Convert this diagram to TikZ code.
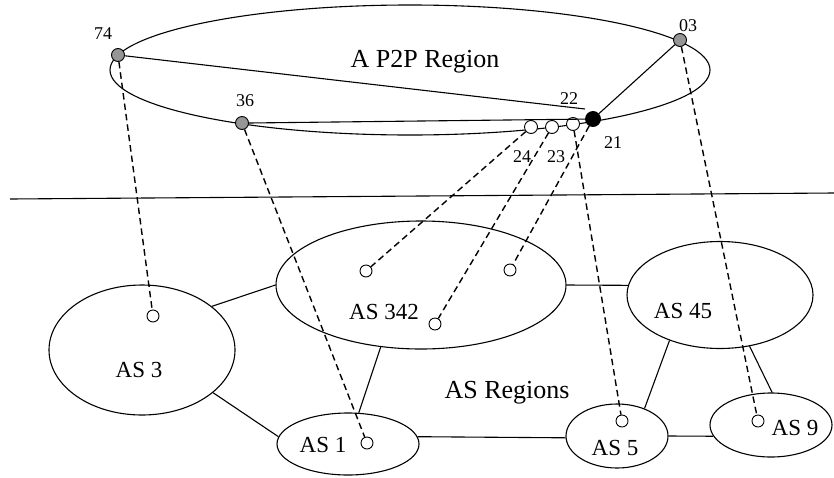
\documentclass[tikz,border=0pt]{standalone}
\usepackage{fontspec}
\setmainfont{Liberation Serif}
\usetikzlibrary{shapes.geometric}
\definecolor{peergray}{RGB}{150,150,150}
\begin{document}
\begin{tikzpicture}[x=1pt,y=-1pt,
  region/.style={draw, ellipse, line width=1.1pt, inner sep=0pt},
  peer/.style={draw, circle, fill=peergray, minimum size=13pt, inner sep=0pt, line width=0.9pt},
  hub/.style={draw, circle, fill=black, minimum size=15pt, inner sep=0pt, line width=0.9pt},
  minor/.style={draw, circle, fill=white, minimum size=13pt, inner sep=0pt, line width=0.9pt},
  host/.style={draw, circle, fill=white, minimum size=12pt, inner sep=0pt, line width=0.9pt},
  link/.style={line width=1.1pt},
  map/.style={line width=1.4pt, dash pattern=on 6.5pt off 4pt},
  numlbl/.style={anchor=base, inner sep=0pt, font=\fontsize{18}{20}\selectfont},
  aslbl/.style={anchor=base, inner sep=0pt, font=\fontsize{23}{25}\selectfont},
  biglbl/.style={anchor=base, inner sep=0pt, font=\fontsize{26}{28}\selectfont}]
\useasboundingbox (0,0) rectangle (834,477);

% P2P region
\node[region, minimum width=600pt, minimum height=130pt] (p2p) at (410,70) {};
\node[biglbl] (p2plbl) at (425,67) {A P2P Region};

% separator
\coordinate (sepl) at (10,199);
\coordinate (sepr) at (834,193);
\draw[link] (sepl) -- (sepr);

% AS regions
\node[region, minimum width=186pt, minimum height=130pt] (as3) at (142,350) {};
\node[region, minimum width=290pt, minimum height=128pt] (as342) at (421,285) {};
\node[region, minimum width=186pt, minimum height=107pt] (as45) at (720,295) {};
\node[region, minimum width=142pt, minimum height=62pt] (as1) at (348,444) {};
\node[region, minimum width=102pt, minimum height=64pt] (as5) at (617,436) {};
\node[region, minimum width=122pt, minimum height=64pt] (as9) at (771,425) {};

\node[aslbl] (l3) at (139,377) {AS 3};
\node[aslbl] (l342) at (384,319) {AS 342};
\node[aslbl] (l45) at (683,318) {AS 45};
\node[aslbl] (l1) at (323,452) {AS 1};
\node[aslbl] (l5) at (615,455) {AS 5};
\node[aslbl] (l9) at (795,435) {AS 9};
\node[biglbl] (asr) at (507,398) {AS Regions};

% AS links
\draw[link] (as3.32) -- (as342.180);
\draw[link] (as3.-31) -- (as1.174);
\draw[link] (as342.237) -- (as1.71);
\draw[link] (as342.0) -- (as45.174);
\draw[link] (as1.6) -- (as5.182);
\draw[link] (as5.0) -- (as9.191);
\draw[link] (as45.222) -- (as5.45);
\draw[link] (as45.-60) -- (as9.88);

% hosts in AS regions
\node[host] (h3) at (153,316) {};
\node[host] (h342a) at (366,271) {};
\node[host] (h342b) at (435,324) {};
\node[host] (h342c) at (510,270) {};
\node[host] (h1) at (367,443) {};
\node[host] (h5) at (622,421) {};
\node[host] (h9) at (758,421) {};

% peers
\node[peer] (n74) at (118,55) {};
\node[peer] (n36) at (242,123) {};
\node[peer] (n03) at (680,40) {};
\node[minor] (n24) at (531,127) {};
\node[minor] (n23) at (552,127) {};
\node[minor] (n22) at (573,124) {};
\node[hub] (n21) at (593,119) {};
\coordinate (e22) at (585,109);

\node[numlbl] (t74) at (103,39) {74};
\node[numlbl] (t36) at (245,106) {36};
\node[numlbl] (t03) at (688,31) {03};
\node[numlbl] (t22) at (569,104) {22};
\node[numlbl] (t21) at (613,148) {21};
\node[numlbl] (t24) at (522,162) {24};
\node[numlbl] (t23) at (556,162) {23};

% overlay links
\draw[link] (n74) -- (e22);
\draw[link] (n36.east) -- (n21);
\draw[link] (n21) -- (n03);

% mappings
\draw[map] (n74) -- (h3);
\draw[map] (n36) -- (h1);
\draw[map] (n03) -- (h9);
\draw[map] (n21) -- (h342c);
\draw[map] (n22) -- (h5);
\draw[map] (n23) -- (h342b);
\draw[map] (n24) -- (h342a);
\end{tikzpicture}
\end{document}
